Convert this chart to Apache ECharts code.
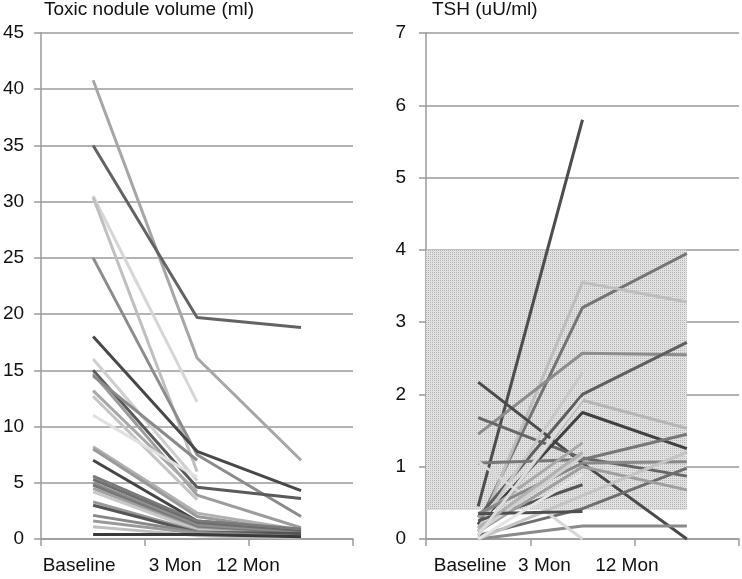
<!DOCTYPE html>
<html>
<head>
<meta charset="utf-8">
<script src="https://cdn.jsdelivr.net/npm/echarts@6/dist/echarts.min.js"></script>
<style>
html,body{margin:0;padding:0;background:#fff;}
#chart{width:742px;height:579px;}
</style>
</head>
<body>
<div id="chart"></div>
<script>
// ---- data ----
const timePoints = ['Baseline', '3 Mon', '12 Mon'];
const volTicks = [0, 5, 10, 15, 20, 25, 30, 35, 40, 45];
const tshTicks = [0, 1, 2, 3, 4, 5, 6, 7];

// Toxic nodule volume (ml), one entry per patient
const volBaseline = [40.8, 35.0, 30.5, 30.4, 25.0, 18.0, 16.0, 15.0, 14.7, 14.5, 13.2, 12.7, 11.0, 8.2, 8.0, 7.0, 5.6, 5.3, 5.0, 4.8, 4.5, 4.2, 3.3, 3.0, 2.1, 1.6, 1.1, 0.4];
const vol3Mon     = [16.1, 19.7, 12.2, 6.0, 7.5, 7.8, 5.2, 4.6, 3.9, 7.0, 4.2, 3.5, 5.5, 2.3, 2.0, 1.6, 1.6, 1.4, 1.2, 1.0, 0.9, 0.8, 0.7, 0.6, 0.6, 0.5, 0.3, 0.4];
const vol12Mon    = [7.0, 18.8, null, null, 2.0, 4.3, null, 3.6, 1.0, null, null, null, null, 0.8, 0.6, 0.8, 0.9, 0.6, 0.5, 0.4, 0.3, 0.2, 0.3, 0.5, 0.2, 0.1, 0.1, 0.2];

// TSH (uU/ml), one entry per patient
const tshBaseline = [0.45, 0.2, 0.1, 1.45, 0.3, 2.17, 1.68, 0.2, 0.05, 0.15, 1.05, 0.3, 0.05, 0.0, 1.07, 0.25, 0.1, 0.35, 0.0, 0.1, 0.35, 0.0, 0.15, 0.05];
const tsh3Mon     = [5.8, 3.2, 3.55, 2.57, 2.0, 1.05, 1.12, 1.75, 1.92, 2.3, 1.1, 1.33, 0.42, 0.18, 0.0, 0.75, 1.0, 1.05, 0.6, 1.15, 0.38, 0.9, 1.2, 1.95];
const tsh12Mon    = [null, 3.95, 3.28, 2.55, 2.72, 0.0, 0.87, 1.25, 1.53, null, 1.45, null, 0.98, 0.18, null, null, 0.68, 1.07, 1.2, null, null, null, null, null];

// normal TSH range band
const tshRange = [0.4, 4];

// ---- styles ----
const volColors = ['#a6a6a6','#636363','#d6d6d6','#bfbfbf','#8c8c8c','#484848','#cfcfcf','#5a5a5a','#9c9c9c','#8a8a8a','#a8a8a8','#c4c4c4','#e0e0e0','#b0b0b0','#999999','#454545','#7a7a7a','#6e6e6e','#8e8e8e','#777777','#a0a0a0','#c8c8c8','#999999','#555555','#888888','#9a9a9a','#c0c0c0','#3a3a3a'];
const tshColors = ['#4d4d4d','#747474','#bdbdbd','#8c8c8c','#5e5e5e','#4a4a4a','#666666','#404040','#b5b5b5','#c8c8c8','#777777','#a8a8a8','#6e6e6e','#8a8a8a','#d8d8d8','#555555','#9e9e9e','#888888','#c4c4c4','#d0d0d0','#4f4f4f','#e4e4e4','#b0b0b0','#dcdcdc'];

const FONT = "'Liberation Sans', Arial, sans-serif";
const FS = 19;
const GRID_COLOR = '#9a9a9a';

// dotted pattern for band
const pc = document.createElement('canvas');
pc.width = 2; pc.height = 2;
const pctx = pc.getContext('2d');
pctx.fillStyle = '#e2e2e2'; pctx.fillRect(0,0,2,2);
pctx.fillStyle = '#b2b2b2'; pctx.fillRect(0,0,1,1);

function xAxisFor(gridIndex, shifts) {
  const rich = {};
  shifts.forEach((s, i) => {
    rich['s' + i] = { fontSize: FS, fontFamily: FONT, color: '#111', padding: [0, -2 * s, 0, 0] };
  });
  return {
    type: 'category', gridIndex: gridIndex, data: timePoints, boundaryGap: true,
    axisLine: { lineStyle: { color: GRID_COLOR, width: 1.5 } },
    axisTick: { show: true, length: 7, lineStyle: { color: GRID_COLOR, width: 1.5 } },
    axisLabel: {
      margin: 17, fontSize: FS, fontFamily: FONT, color: '#111', interval: 0,
      formatter: (v, i) => '{s' + i + '|' + v + '}', rich: rich
    },
    splitLine: { show: false }
  };
}
function yAxisFor(gridIndex, ticks, margin) {
  return {
    type: 'value', gridIndex: gridIndex, min: ticks[0], max: ticks[ticks.length - 1],
    interval: ticks[1] - ticks[0],
    axisLine: { show: true, lineStyle: { color: GRID_COLOR, width: 1.5 } },
    axisTick: { show: true, length: 7, lineStyle: { color: GRID_COLOR, width: 1.5 } },
    axisLabel: { margin: margin, fontSize: FS, fontFamily: FONT, color: '#111' },
    splitLine: { show: true, lineStyle: { color: GRID_COLOR, width: 1.5 } }
  };
}

const series = [];
volBaseline.forEach((b, i) => {
  series.push({
    type: 'line', xAxisIndex: 0, yAxisIndex: 0, showSymbol: false, symbol: 'none',
    data: [b, vol3Mon[i], vol12Mon[i]],
    lineStyle: { color: volColors[i], width: 3 }, silent: true, z: 3
  });
});
series.push({
  type: 'line', xAxisIndex: 2, yAxisIndex: 1, data: [], symbol: 'none', z: -1, silent: true,
  markArea: {
    silent: true,
    itemStyle: { color: { image: pc, repeat: 'repeat' } },
    data: [[{ xAxis: 0, yAxis: tshRange[0] }, { xAxis: 2.5, yAxis: tshRange[1] }]]
  }
});
tshBaseline.forEach((b, i) => {
  series.push({
    type: 'line', xAxisIndex: 1, yAxisIndex: 1, showSymbol: false, symbol: 'none',
    data: [b, tsh3Mon[i], tsh12Mon[i]],
    lineStyle: { color: tshColors[i], width: 3 }, silent: true, z: 3
  });
});

const chart = echarts.init(document.getElementById('chart'), null, { renderer: 'canvas' });
chart.setOption({
  animation: false,
  backgroundColor: '#ffffff',
  title: [
    { text: 'Toxic nodule volume (ml)', left: 44, top: 0, padding: 0,
      textStyle: { fontSize: FS, fontWeight: 'normal', fontFamily: FONT, color: '#111' } },
    { text: 'TSH (uU/ml)', left: 432, top: 0, padding: 0,
      textStyle: { fontSize: FS, fontWeight: 'normal', fontFamily: FONT, color: '#111' } }
  ],
  grid: [
    { left: 40, right: 389, top: 33, bottom: 40 },
    { left: 426, right: 3, top: 33, bottom: 40 }
  ],
  xAxis: [
    xAxisFor(0, [-14, -22, -53]),
    xAxisFor(1, [-8, -38, -60]),
    { type: 'value', gridIndex: 1, min: 0, max: 3, show: false }
  ],
  yAxis: [
    yAxisFor(0, volTicks, 17),
    yAxisFor(1, tshTicks, 20)
  ],
  series: series
});
</script>
</body>
</html>
